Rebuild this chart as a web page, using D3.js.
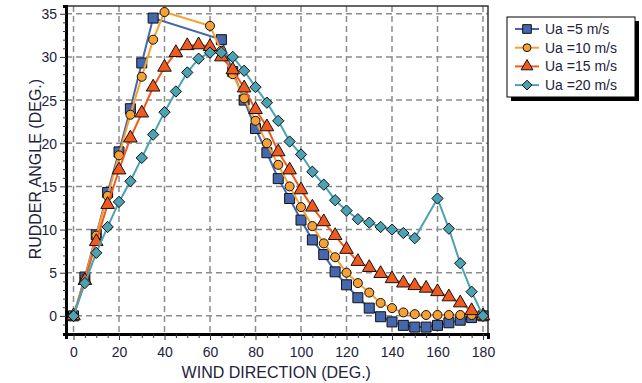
<!DOCTYPE html>
<html>
<head>
<meta charset="utf-8">
<script src="https://cdn.jsdelivr.net/npm/d3@7"></script>
<style>
  body { margin: 0; background: #fff; }
  svg { display: block; font-family: "Liberation Sans", Arial, sans-serif; }
</style>
</head>
<body>
<div id="chart"></div>
<script>
// wind direction (deg.) for each series
const dir5 = [0, 5, 10, 15, 20, 25, 30, 35, 65, 70, 75, 80, 85, 90, 95, 100, 105, 110, 115, 120, 125, 130, 135, 140, 145, 150, 155, 160, 165, 170, 175, 180];
const rud5 = [0, 4.5, 9.4, 14.3, 19, 24, 29.3, 34.5, 32, 28.3, 25, 21.7, 18.9, 15.9, 13.6, 11.1, 8.8, 7.1, 5.1, 3.6, 2.1, 0.9, -0.1, -0.7, -1.1, -1.3, -1.3, -1.1, -0.8, -0.5, -0.2, 0];

const dir10 = [0, 5, 10, 15, 20, 25, 30, 35, 40, 60, 65, 70, 75, 80, 85, 90, 95, 100, 105, 110, 115, 120, 125, 130, 135, 140, 145, 150, 155, 160, 165, 170, 175, 180];
const rud10 = [0, 4.3, 9.3, 13.9, 18.6, 23.3, 27.7, 32, 35.2, 33.6, 30.7, 28, 25.2, 22.6, 20, 17.5, 15, 12.6, 10.4, 8.4, 6.8, 5, 3.8, 2.7, 1.5, 0.9, 0.4, 0.2, 0.1, 0.1, 0.1, 0.1, 0.1, 0];

const dir15 = [0, 5, 10, 15, 20, 25, 30, 35, 40, 45, 50, 55, 60, 65, 70, 75, 80, 85, 90, 95, 100, 105, 110, 115, 120, 125, 130, 135, 140, 145, 150, 155, 160, 165, 170, 175, 180];
const rud15 = [0, 4.1, 8.6, 12.9, 16.9, 20.6, 23.5, 26.5, 28.8, 30.5, 31.3, 31.4, 31.2, 30, 28.5, 26.4, 23.9, 21.9, 19, 16.9, 14.6, 12.6, 10.9, 9.3, 7.7, 6.3, 5.6, 4.9, 4.3, 3.8, 3.5, 3.2, 2.8, 2.2, 1.5, 0.6, 0];

const dir20 = [0, 5, 10, 15, 20, 25, 30, 35, 40, 45, 50, 55, 60, 65, 70, 75, 80, 85, 90, 95, 100, 105, 110, 115, 120, 125, 130, 135, 140, 145, 150, 160, 165, 170, 175, 180];
const rud20 = [0, 3.8, 7.3, 10.3, 13.2, 15.6, 18.3, 21, 23.6, 26, 28.2, 29.8, 30.5, 30.5, 30, 28.4, 26.5, 24.7, 22.6, 20.2, 18.7, 16.7, 15.2, 13.4, 12.2, 11.2, 10.8, 10.3, 10, 9.6, 9, 13.6, 10.1, 6.1, 2.8, 0];

const seriesNames = ["Ua =5 m/s", "Ua =10 m/s", "Ua =15 m/s", "Ua =20 m/s"];
const xTicks = [0, 20, 40, 60, 80, 100, 120, 140, 160, 180];
const yTicks = [0, 5, 10, 15, 20, 25, 30, 35];

// diamond = square turned 45 degrees
const diamond = {
  draw(ctx, size) {
    const r = Math.sqrt(size) / Math.SQRT2;
    ctx.moveTo(0, -r); ctx.lineTo(r, 0); ctx.lineTo(0, r); ctx.lineTo(-r, 0); ctx.closePath();
  }
};

const series = [
  { name: seriesNames[0], x: dir5, y: rud5, color: "#4467ad", symbol: d3.symbolSquare, size: 100 },
  { name: seriesNames[1], x: dir10, y: rud10, color: "#f7a034", symbol: d3.symbolCircle, size: 64 },
  { name: seriesNames[2], x: dir15, y: rud15, color: "#f05a1e", symbol: d3.symbolTriangle, size: 80 },
  { name: seriesNames[3], x: dir20, y: rud20, color: "#4aa2b2", symbol: diamond, size: 64 },
];

const W = 642, H = 383;
const margin = { top: 6, left: 66, right: 154, bottom: 49 };
const width = W - margin.left - margin.right;
const height = H - margin.top - margin.bottom;

const svg = d3.select("#chart").append("svg").attr("width", W).attr("height", H);
const g = svg.append("g").attr("transform", `translate(${margin.left},${margin.top})`);

const x = d3.scaleLinear().domain([-3.3, 182.2]).range([0, width]);
const y = d3.scaleLinear().domain([-2.1, 35.9]).range([height, 0]);

// dashed grid
g.append("g").selectAll("line").data(xTicks).join("line")
  .attr("x1", d => x(d)).attr("x2", d => x(d))
  .attr("y1", 0).attr("y2", height)
  .attr("stroke", "#8c8c8c").attr("stroke-width", 1.5).attr("stroke-dasharray", "6,4");
g.append("g").selectAll("line").data(yTicks).join("line")
  .attr("x1", 0).attr("x2", width)
  .attr("y1", d => y(d)).attr("y2", d => y(d))
  .attr("stroke", "#8c8c8c").attr("stroke-width", 1.5).attr("stroke-dasharray", "6,4");

// frame top / right
g.append("path")
  .attr("d", `M0,0H${width}V${height}`)
  .attr("fill", "none").attr("stroke", "#333").attr("stroke-width", 1.5);

// axes
const xAxis = g.append("g").attr("transform", `translate(0,${height})`)
  .call(d3.axisBottom(x).tickValues(d3.range(0, 181, 5)).tickSize(5).tickFormat(d => d % 20 === 0 ? d : ""));
const yAxis = g.append("g")
  .call(d3.axisLeft(y).tickValues(d3.range(-1, 36, 1)).tickSize(3).tickFormat(d => d % 5 === 0 ? d : ""));

yAxis.selectAll(".tick line").attr("x2", d => d % 5 === 0 ? -6 : -3);
xAxis.selectAll(".tick line").attr("y2", d => d % 20 === 0 ? 6 : 4);
[xAxis, yAxis].forEach(a => {
  a.select(".domain").attr("stroke", "#000").attr("stroke-width", 3);
  a.selectAll(".tick line").attr("stroke", "#333");
  a.selectAll("text").attr("font-size", 14).attr("fill", "#22223a");
});
xAxis.selectAll("text").attr("dy", "1.1em");
yAxis.selectAll("text").attr("x", -9).attr("dy", "0.36em");

// series
const line = d3.line().x(d => x(d[0])).y(d => y(d[1]));
series.forEach(s => {
  const pts = s.x.map((v, i) => [v, s.y[i]]);
  const sg = g.append("g");
  sg.append("path").datum(pts)
    .attr("d", line).attr("fill", "none")
    .attr("stroke", s.color).attr("stroke-width", 2);
  sg.selectAll("path.mark").data(pts).join("path")
    .attr("class", "mark")
    .attr("transform", d => `translate(${x(d[0])},${y(d[1])})`)
    .attr("d", d3.symbol().type(s.symbol).size(s.size))
    .attr("fill", s.color).attr("stroke", "#111").attr("stroke-width", 1);
});

// axis titles
svg.append("text")
  .attr("x", margin.left + x(90) - 2).attr("y", 378)
  .attr("text-anchor", "middle").attr("font-size", 16).attr("fill", "#22223a")
  .text("WIND DIRECTION (DEG.)");
svg.append("text")
  .attr("transform", `translate(41,${margin.top + y(17)}) rotate(-90)`)
  .attr("text-anchor", "middle").attr("font-size", 16).attr("fill", "#22223a")
  .text("RUDDER ANGLE (DEG.)");

// legend
const lg = svg.append("g").attr("transform", "translate(507,17)");
lg.append("rect").attr("x", 4).attr("y", 4).attr("width", 128).attr("height", 80).attr("fill", "#000");
lg.append("rect").attr("width", 128).attr("height", 80).attr("fill", "#fff").attr("stroke", "#000").attr("stroke-width", 1);
const items = lg.selectAll("g.item").data(series).join("g")
  .attr("class", "item")
  .attr("transform", (d, i) => `translate(0,${12 + i * 18.7})`);
items.append("line").attr("x1", 8).attr("x2", 32).attr("stroke", d => d.color).attr("stroke-width", 2);
items.append("path")
  .attr("transform", "translate(20,0)")
  .attr("d", d => d3.symbol().type(d.symbol).size(d.size * 0.75)())
  .attr("fill", d => d.color).attr("stroke", "#111").attr("stroke-width", 1);
items.append("text").attr("x", 38).attr("dy", "0.35em")
  .attr("font-size", 14).attr("fill", "#22223a")
  .text(d => d.name);
</script>
</body>
</html>
